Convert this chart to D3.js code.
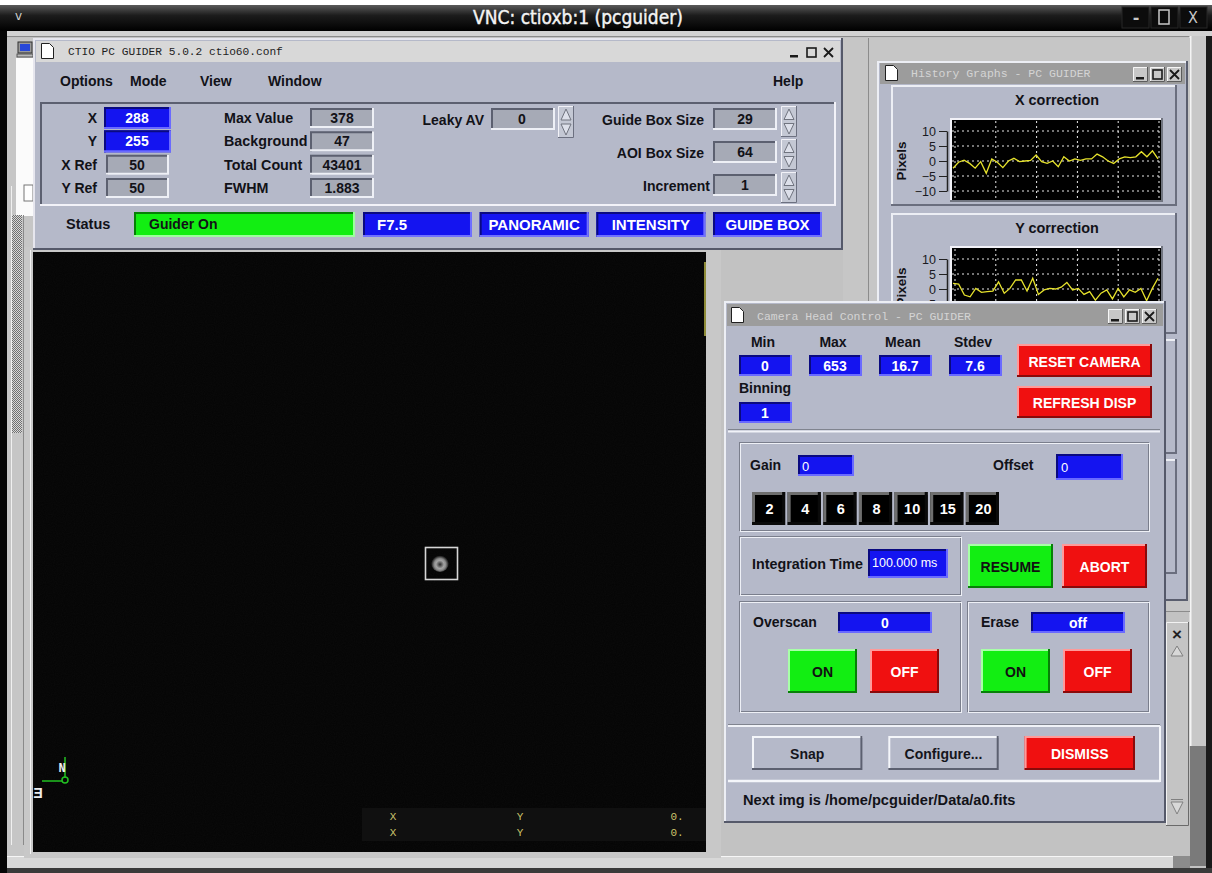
<!DOCTYPE html>
<html>
<head>
<meta charset="utf-8">
<script src="https://cdn.jsdelivr.net/npm/d3@7"></script>
<style>
body { margin:0; background:#fff; overflow:hidden; }
svg { display:block; }
</style>
</head>
<body>
<script>
// ---- values ----
var vncTitle = "VNC: ctioxb:1 (pcguider)";
var mainTitle = "CTIO PC GUIDER 5.0.2 ctio60.conf";
var menuItems = ["Options", "Mode", "View", "Window"];
var guideLabels = ["X", "Y", "X Ref", "Y Ref"];
var guideValues = ["288", "255", "50", "50"];
var statLabels = ["Max Value", "Background", "Total Count", "FWHM"];
var statValues = ["378", "47", "43401", "1.883"];
var leakyAv = "0";
var boxLabels = ["Guide Box Size", "AOI Box Size", "Increment"];
var boxValues = ["29", "64", "1"];
var statusText = "Guider On";
var modeButtons = ["F7.5", "PANORAMIC", "INTENSITY", "GUIDE BOX"];

var historyTitles = ["X correction", "Y correction"];
var historyTicks = [10, 5, 0, -5, -10];
var xCorrection = [-2.4, -0.4, 0.3, -0.8, -2.4, -0.2, -4.1, 0.7, -0.4, -2.2, 0, 0.9, -0.2, 0, 0.2, 2, -0.2, -0.8, 0,
                   -1.9, 1.4, 0, 0.7, 0.2, 0.7, 0.7, 2.3, 1.4, 0, -0.8, 0.7, 1.4, 1.1, 1.4, 3.1, 1.4, 3.4, 0.7];
var yCorrection = [1.9, 1.6, -2, -2.6, 0.2, -1.1, -0.9, -0.7, 2.4, -1.4, 0.2, 3, 3, -0.7, 3.6, -1.8, -0.3, 0.2, 0,
                   0.6, 2.2, -0.3, 0.2, -1.8, -0.9, -3.7, -1.4, -0.3, -3.3, 0.2, -2.6, -0.3, -1.1, 0.2, -3.9, 0.2, 3.6];

var camLabels = ["Min", "Max", "Mean", "Stdev"];
var camValues = ["0", "653", "16.7", "7.6"];
var binning = "1";
var gainSteps = ["2", "4", "6", "8", "10", "15", "20"];
var gainValue = "0", offsetValue = "0";
var integrationTime = "100.000 ms";
var overscanValue = "0", eraseValue = "off";
var bottomButtons = ["Snap", "Configure...", "DISMISS"];
var nextImage = "Next img is /home/pcguider/Data/a0.fits";
var readoutCols = ["X", "Y", "0."];
var readoutRows = [readoutCols, readoutCols];

// ---- look ----
var W = 1212, H = 873;
var BG = "#b5b9c9", DESK = "#c2c2c2";
var BLUE = "#1414f0", GREEN = "#12ee12", RED = "#f01010";
var SANS = "'Liberation Sans', Arial, Helvetica, sans-serif";
var MONO = "'Liberation Mono', 'DejaVu Sans Mono', monospace";
var CAM_TOP = 301;

var svg = d3.select("body").append("svg").attr("width", W).attr("height", H);
var defs = svg.append("defs");

var vg = defs.append("linearGradient").attr("id", "vncbar").attr("x1", 0).attr("y1", 0).attr("x2", 0).attr("y2", 1);
vg.append("stop").attr("offset", "0%").attr("stop-color", "#5a5a5a");
vg.append("stop").attr("offset", "40%").attr("stop-color", "#1c1c1c");
vg.append("stop").attr("offset", "100%").attr("stop-color", "#000");

var chk = defs.append("pattern").attr("id", "checker").attr("width", 2).attr("height", 2).attr("patternUnits", "userSpaceOnUse");
chk.append("rect").attr("width", 2).attr("height", 2).attr("fill", "#d8d8d8");
chk.append("rect").attr("width", 1).attr("height", 1).attr("fill", "#707070");
chk.append("rect").attr("x", 1).attr("y", 1).attr("width", 1).attr("height", 1).attr("fill", "#707070");

var noise = defs.append("filter").attr("id", "noise").attr("x", 0).attr("y", 0).attr("width", 1).attr("height", 1);
noise.append("feTurbulence").attr("type", "fractalNoise").attr("baseFrequency", 0.9).attr("numOctaves", 1).attr("seed", 4);
noise.append("feColorMatrix").attr("type", "saturate").attr("values", 0);

var star = defs.append("radialGradient").attr("id", "star").attr("cx", "50%").attr("cy", "58%").attr("r", "50%");
star.append("stop").attr("offset", "0%").attr("stop-color", "#2a2a2a");
star.append("stop").attr("offset", "45%").attr("stop-color", "#a4a4a4");
star.append("stop").attr("offset", "65%").attr("stop-color", "#8a8a8a");
star.append("stop").attr("offset", "100%").attr("stop-color", "#080808");

// the history window sits under the camera window
defs.append("clipPath").attr("id", "underCam").append("path")
	.attr("clip-rule", "evenodd")
	.attr("d", "M840,30H1195V620H840Z M724," + CAM_TOP + "H1166V823H724Z");

// ---- helpers ----
function rect(p, x, y, w, h, fill) {
	return p.append("rect").attr("x", x).attr("y", y).attr("width", w).attr("height", h).attr("fill", fill);
}

function bevel(p, x, y, w, h, fill, kind, lw, light, dark) {
	lw = lw || 2;
	light = light || "#eef0f8";
	dark = dark || "#656978";
	var tl = kind == "sunken" ? dark : light;
	var br = kind == "sunken" ? light : dark;
	var g = p.append("g");
	rect(g, x, y, w, h, fill);
	var o = lw / 2;
	g.append("path").attr("d", "M" + (x + o) + "," + (y + h) + "V" + (y + o) + "H" + (x + w))
		.attr("fill", "none").attr("stroke", tl).attr("stroke-width", lw);
	g.append("path").attr("d", "M" + (x + w - o) + "," + y + "V" + (y + h - o) + "H" + x)
		.attr("fill", "none").attr("stroke", br).attr("stroke-width", lw);
	return g;
}

function etched(p, x, y, w, h) {
	p.append("rect").attr("x", x + 0.5).attr("y", y + 0.5).attr("width", w).attr("height", h)
		.attr("fill", "none").attr("stroke", "#7a7e8c");
	p.append("rect").attr("x", x + 1.5).attr("y", y + 1.5).attr("width", w).attr("height", h)
		.attr("fill", "none").attr("stroke", "#eef0f6");
}

function text(p, x, y, t, o) {
	o = o || {};
	return p.append("text").attr("x", x).attr("y", y).text(t)
		.attr("font-family", o.font || SANS)
		.attr("font-size", o.size || 14)
		.attr("font-weight", o.weight || "bold")
		.attr("fill", o.fill || "#121218")
		.attr("text-anchor", o.anchor || "start")
		.attr("dominant-baseline", "central");
}

function docIcon(p, x, y) {
	p.append("path").attr("d", "M" + x + "," + y + "h8l4,4v11h-12z")
		.attr("fill", "#fff").attr("stroke", "#202020").attr("stroke-width", 1);
}

function winButtons(p, x, y, boxed) {
	[0, 1, 2].forEach(function(i) {
		var bx = x + i * 17;
		if (boxed) bevel(p, bx, y, 15, 15, "#c8c8c8", "raised", 1, "#f6f6f6", "#5c5c5c");
		if (i == 0) rect(p, bx + 3, y + 10, 8, 2.5, "#1a1a1a");
		if (i == 1) p.append("rect").attr("x", bx + 3).attr("y", y + 3).attr("width", 9).attr("height", 9)
			.attr("fill", "none").attr("stroke", "#1a1a1a").attr("stroke-width", 1.6);
		if (i == 2) p.append("path")
			.attr("d", "M" + (bx + 3) + "," + (y + 3) + "L" + (bx + 12) + "," + (y + 12) + "M" + (bx + 12) + "," + (y + 3) + "L" + (bx + 3) + "," + (y + 12))
			.attr("stroke", "#1a1a1a").attr("stroke-width", 1.8);
	});
}

function spinner(p, x, y, h) {
	bevel(p, x, y, 16, h, "#c4c8d4", "raised", 1, "#f2f2f8", "#6c7080");
	var m = y + h / 2;
	p.append("path").attr("d", "M" + (x + 3) + "," + (m - 2) + "L" + (x + 8) + "," + (y + 3) + "L" + (x + 13) + "," + (m - 2) + "Z")
		.attr("fill", "#dde0ea").attr("stroke", "#70747f");
	p.append("path").attr("d", "M" + (x + 3) + "," + (m + 2) + "L" + (x + 8) + "," + (y + h - 3) + "L" + (x + 13) + "," + (m + 2) + "Z")
		.attr("fill", "#dde0ea").attr("stroke", "#70747f");
}

function button(p, x, y, w, h, fill, label, color, light, dark) {
	bevel(p, x, y, w, h, fill, "raised", 2, light, dark);
	text(p, x + w / 2, y + h / 2 + 1, label, { anchor: "middle", fill: color, size: 14 });
}

// ---- screen background ----
rect(svg, 0, 0, W, H, "#fff");
rect(svg, 0, 5, W, 26, "url(#vncbar)");
text(svg, 15, 16, "v", { fill: "#d0d0d0", size: 12, weight: "normal", font: "'DejaVu Sans', sans-serif" });
text(svg, 578, 17, vncTitle, { anchor: "middle", fill: "#f4f4f4", size: 19, weight: "normal", font: "'DejaVu Sans Condensed', 'DejaVu Sans', sans-serif" })
	.attr("stroke", "#f4f4f4").attr("stroke-width", 0.4);
[0, 1, 2].forEach(function(i) {
	rect(svg, 1122 + i * 29, 7, 27, 21, "#0c0c0c").attr("stroke", "#262626");
});
text(svg, 1136, 17, "-", { anchor: "middle", fill: "#c8c8c8", size: 16, font: "'DejaVu Sans', sans-serif" });
svg.append("rect").attr("x", 1159).attr("y", 10).attr("width", 10).attr("height", 14).attr("fill", "none").attr("stroke", "#c8c8c8").attr("stroke-width", 1.5);
text(svg, 1193, 17, "X", { anchor: "middle", fill: "#c8c8c8", size: 16, weight: "normal", font: "'DejaVu Sans Condensed', sans-serif" });

rect(svg, 0, 31, W, H - 31, DESK);
rect(svg, 0, 31, 7, H - 31, "#050505");
rect(svg, 7, 31, W - 7, 5, "#d2d2d2");
svg.append("line").attr("x1", 7).attr("x2", W).attr("y1", 36.5).attr("y2", 36.5).attr("stroke", "#8a8a8a");
rect(svg, 1190, 36, 16, 710, "#c8c8c8");
svg.append("line").attr("x1", 1190.5).attr("x2", 1190.5).attr("y1", 36).attr("y2", 746).attr("stroke", "#f4f4f4").attr("stroke-width", 2);
rect(svg, 1190, 746, 17, 120, "#7a7a7a");
rect(svg, 1206, 36, 6, H - 36, "#1a1a1a");
rect(svg, 7, 856, 1166, 13, "#d8d8d8");
svg.append("line").attr("x1", 7).attr("x2", 1173).attr("y1", 856.5).attr("y2", 856.5).attr("stroke", "#f6f6f6");
rect(svg, 1173, 856, 17, 13, "#8c8c8c");
rect(svg, 7, 868, W - 7, 5, "#3a3a3a");

// window partly hidden at the left
rect(svg, 7, 38, 26, 818, "#c6c6c6");
rect(svg, 16, 58, 17, 158, "#fbfbfb");
rect(svg, 24, 185, 9, 16, "#ffffff").attr("stroke", "#777");
rect(svg, 12, 215, 10, 218, "url(#checker)");
svg.append("line").attr("x1", 23.5).attr("x2", 23.5).attr("y1", 215).attr("y2", 845).attr("stroke", "#8a8a8a");
svg.append("line").attr("x1", 11.5).attr("x2", 11.5).attr("y1", 186).attr("y2", 845).attr("stroke", "#f0f0f0");
// little computer icon
rect(svg, 18, 42, 14, 11, "#9a9a9a").attr("stroke", "#303030");
rect(svg, 20, 44, 10, 7, "#2848d8");
rect(svg, 17, 54, 16, 3, "#b8b8b8").attr("stroke", "#404040").attr("stroke-width", 0.8);

// ---- guider image window ----
var img = svg.append("g");
rect(img, 24, 247, 697, 611, "#c8c8c8");
img.append("line").attr("x1", 30.5).attr("x2", 30.5).attr("y1", 250).attr("y2", 854).attr("stroke", "#f2f2f2");
rect(img, 33, 252, 673, 600, "#040404");
rect(img, 33, 252, 673, 600, "#000").attr("filter", "url(#noise)").attr("opacity", 0.035);
img.append("line").attr("x1", 705).attr("x2", 705).attr("y1", 262).attr("y2", 336).attr("stroke", "#bcb84a").attr("stroke-width", 1.5);
// star in its guide box
img.append("circle").attr("cx", 440).attr("cy", 563).attr("r", 9).attr("fill", "url(#star)");
img.append("rect").attr("x", 425.5).attr("y", 547.5).attr("width", 32).attr("height", 32)
	.attr("fill", "none").attr("stroke", "#d6d6d6").attr("stroke-width", 1.6);
// compass
img.append("path").attr("d", "M65,757V778M42,781H62").attr("stroke", "#22c022").attr("stroke-width", 1.5).attr("fill", "none");
img.append("circle").attr("cx", 65).attr("cy", 780).attr("r", 3).attr("fill", "none").attr("stroke", "#22c022").attr("stroke-width", 1.5);
text(img, 62, 769, "N", { anchor: "middle", fill: "#ececec", size: 12, font: MONO });
text(img, 0, 793, "E", { anchor: "middle", fill: "#ececec", size: 14 }).attr("transform", "translate(38,0) scale(-1,1)");
// readout
rect(img, 362, 808, 344, 33, "#101010");
var readCol = d3.scaleOrdinal().domain(d3.range(3)).range([393, 520, 677]);
var readRow = d3.scalePoint().domain(d3.range(2)).range([817, 833]);
readoutRows.forEach(function(row, r) {
	row.forEach(function(v, c) {
		text(img, readCol(c), readRow(r), v, { fill: "#ccc46c", size: 11, weight: "normal", font: MONO, anchor: "middle" });
	});
});

// ---- main PC GUIDER window ----
var mw = svg.append("g");
bevel(mw, 33, 38, 810, 212, BG, "raised", 2, "#e6e6ee", "#55596a");
rect(mw, 36, 41, 804, 21, "#d8d8d8");
docIcon(mw, 41.5, 43.5);
text(mw, 68, 52, mainTitle, { font: MONO, size: 11.2, weight: "normal", fill: "#1e1e1e" });
winButtons(mw, 787, 45, false);

var menuX = d3.scaleOrdinal().domain(menuItems).range([60, 130, 200, 268]);
menuItems.forEach(function(m) {
	text(mw, menuX(m), 81, m);
});
text(mw, 773, 81, "Help");

bevel(mw, 40, 102, 796, 104, BG, "sunken", 2, "#f2f2f8", "#5c6070");

var guideRow = d3.scalePoint().domain(d3.range(4)).range([118, 188]);
guideLabels.forEach(function(l, i) {
	var y = guideRow(i);
	text(mw, 97, y, l, { anchor: "end" });
	if (i < 2) {
		bevel(mw, 104, y - 11, 67, 22, BLUE, "sunken", 2, "#6a6aff", "#0a0a80");
		text(mw, 137, y, guideValues[i], { anchor: "middle", fill: "#fff" });
	} else {
		bevel(mw, 106, y - 10, 63, 20, "#a6aab6", "sunken", 2, "#eef0f6", "#5c6070");
		text(mw, 137, y, guideValues[i], { anchor: "middle" });
	}
	text(mw, 224, y, statLabels[i], { size: 14.3 });
	bevel(mw, 310, y - 10, 64, 20, "#a6aab6", "sunken", 2, "#eef0f6", "#5c6070");
	text(mw, 342, y, statValues[i], { anchor: "middle" });
});

text(mw, 484, 120, "Leaky AV", { anchor: "end" });
bevel(mw, 491, 108, 64, 22, "#a6aab6", "sunken", 2, "#eef0f6", "#5c6070");
text(mw, 522, 119, leakyAv, { anchor: "middle" });
spinner(mw, 558, 106, 32);

var boxRow = d3.scalePoint().domain(d3.range(3)).range([119, 185]);
boxLabels.forEach(function(l, i) {
	var y = boxRow(i);
	text(mw, i == 2 ? 710 : 704, y + 1, l, { anchor: "end" });
	bevel(mw, 713, y - 11, 64, 22, "#a6aab6", "sunken", 2, "#eef0f6", "#5c6070");
	text(mw, 745, y, boxValues[i], { anchor: "middle" });
	spinner(mw, 781, y - 13, 31);
});

text(mw, 66, 224, "Status", { size: 14.5 });
bevel(mw, 134, 212, 221, 25, GREEN, "sunken", 2, "#9cff9c", "#068006");
text(mw, 149, 224, statusText);
var modeX = d3.scaleBand().domain(modeButtons).range([363, 822]).paddingInner(0.066);
modeButtons.forEach(function(m, i) {
	var x = modeX(m), w = modeX.bandwidth();
	bevel(mw, x, 212, w, 25, BLUE, "sunken", 2, "#7070ff", "#0a0a80");
	text(mw, i == 0 ? x + 14 : x + w / 2, 224, m, { anchor: i == 0 ? "start" : "middle", fill: "#fff", size: 15 });
});

// ---- history graphs window ----
var hw = svg.append("g").attr("clip-path", "url(#underCam)");
rect(hw, 843, 38, 347, 574, "#c6c6c6");
hw.append("line").attr("x1", 868.5).attr("x2", 868.5).attr("y1", 38).attr("y2", 612).attr("stroke", "#8c8c8c");
hw.append("line").attr("x1", 869.5).attr("x2", 1190).attr("y1", 611.5).attr("y2", 611.5).attr("stroke", "#8c8c8c");
bevel(hw, 877, 61, 311, 540, BG, "raised", 2, "#eceef4", "#5a5e6e");
rect(hw, 880, 63, 305, 21, "#9c9c9c");
docIcon(hw, 885.5, 65.5);
text(hw, 911, 73, "History Graphs - PC GUIDER", { font: MONO, size: 11.5, weight: "normal", fill: "#d4d4d4" });
winButtons(hw, 1133, 67, true);

function historyPanel(top, title, series) {
	bevel(hw, 891, top, 286, 121, BG, "raised", 2, "#eceef4", "#6a6e7e");
	text(hw, 1057, top + 15, title, { anchor: "middle", size: 14.4 });
	bevel(hw, 950, top + 33, 213, 84, "#000", "sunken", 2, "#70747f", "#f2f2f8");
	var y = d3.scaleLinear().domain([-10, 10]).range([top + 106, top + 46]);
	var x = d3.scaleLinear().domain([0, series.length - 1]).range([953, 1158]);
	var gridX = d3.scaleLinear().domain([0, 5]).range([955, 1159]);
	hw.append("g").selectAll("line").data(historyTicks).enter().append("line")
		.attr("x1", 952).attr("x2", 1161)
		.attr("y1", function(d) { return y(d); }).attr("y2", function(d) { return y(d); })
		.attr("stroke", "#e8e8e8").attr("stroke-dasharray", "2,3");
	hw.append("g").selectAll("line").data(d3.range(6)).enter().append("line")
		.attr("x1", function(d) { return gridX(d); }).attr("x2", function(d) { return gridX(d); })
		.attr("y1", top + 36).attr("y2", top + 115)
		.attr("stroke", "#e8e8e8").attr("stroke-dasharray", "2,3");
	hw.append("path").datum(series)
		.attr("d", d3.line().x(function(d, i) { return x(i); }).y(function(d) { return y(d); }))
		.attr("fill", "none").attr("stroke", "#e6e22c").attr("stroke-width", 1.3);
	var ax = hw.append("g").attr("transform", "translate(947,0)")
		.call(d3.axisLeft(y).tickValues(historyTicks).tickSize(8).tickSizeOuter(0).tickPadding(3));
	ax.select(".domain").attr("stroke", "#222").attr("stroke-width", 1.5);
	ax.selectAll(".tick line").attr("stroke", "#222").attr("stroke-width", 1.2);
	ax.selectAll("text").attr("font-family", SANS).attr("font-size", 12.5).attr("fill", "#1a1a22");
	// labels that fall completely under the camera window are not shown
	ax.selectAll(".tick").filter(function(d) { return y(d) - 5 > CAM_TOP; }).select("text").attr("display", "none");
	text(hw, 0, 0, "Pixels", { anchor: "middle", size: 13.5 })
		.attr("transform", "translate(901," + Math.min(top + 76, CAM_TOP - 14) + ") rotate(-90)");
}
historyPanel(85, historyTitles[0], xCorrection);
historyPanel(213, historyTitles[1], yCorrection);
bevel(hw, 891, 339, 286, 115, BG, "raised", 2, "#eceef4", "#6a6e7e");
bevel(hw, 891, 459, 286, 115, BG, "raised", 2, "#eceef4", "#6a6e7e");

// small window at the far right
var sw = svg.append("g");
bevel(sw, 1166, 622, 23, 204, "#c4c4c4", "raised", 1, "#f2f2f2", "#6a6a6a");
text(sw, 1177, 634, "\u00d7", { anchor: "middle", size: 17, fill: "#222" });
sw.append("path").attr("d", "M1171,656L1177,646L1183,656Z").attr("fill", "#d8d8d8").attr("stroke", "#808080");
sw.append("path").attr("d", "M1171,802L1177,814L1183,802Z").attr("fill", "#d8d8d8").attr("stroke", "#808080");
sw.append("line").attr("x1", 1171).attr("x2", 1183).attr("y1", 799.5).attr("y2", 799.5).attr("stroke", "#808080");

// ---- camera head control window ----
var cw = svg.append("g");
bevel(cw, 724, CAM_TOP, 442, 522, BG, "raised", 2, "#eceef4", "#55596a");
rect(cw, 727, 304, 436, 22, "#9c9c9c");
docIcon(cw, 731.5, 307.5);
text(cw, 757, 316, "Camera Head Control - PC GUIDER", { font: MONO, size: 11.5, weight: "normal", fill: "#d4d4d4" });
winButtons(cw, 1108, 309, true);

var camCol = d3.scalePoint().domain(camLabels).range([765, 975]);
camLabels.forEach(function(l, i) {
	var cx = camCol(l);
	text(cw, cx - 2, 342, l, { anchor: "middle" });
	bevel(cw, cx - 26, 355, 53, 21, BLUE, "sunken", 2, "#6a6aff", "#0a0a80");
	text(cw, cx, 366, camValues[i], { anchor: "middle", fill: "#fff" });
});
text(cw, 765, 388, "Binning", { anchor: "middle" });
bevel(cw, 739, 402, 53, 21, BLUE, "sunken", 2, "#6a6aff", "#0a0a80");
text(cw, 765, 413, binning, { anchor: "middle", fill: "#fff" });
button(cw, 1017, 344, 135, 33, RED, "RESET CAMERA", "#fff", "#ff9a9a", "#8a0a0a");
button(cw, 1017, 386, 135, 32, RED, "REFRESH DISP", "#fff", "#ff9a9a", "#8a0a0a");
cw.append("line").attr("x1", 728).attr("x2", 1160).attr("y1", 431.5).attr("y2", 431.5).attr("stroke", "#f0f2f8").attr("stroke-width", 2);
cw.append("line").attr("x1", 728).attr("x2", 1160).attr("y1", 429.5).attr("y2", 429.5).attr("stroke", "#80848f");

// gain group
etched(cw, 739, 442, 409, 88);
text(cw, 750, 465, "Gain");
bevel(cw, 798, 455, 56, 21, BLUE, "sunken", 2, "#6a6aff", "#0a0a80");
text(cw, 802, 466, gainValue, { fill: "#fff", weight: "normal", size: 13 });
text(cw, 993, 465, "Offset");
bevel(cw, 1056, 454, 67, 26, BLUE, "sunken", 2, "#6a6aff", "#0a0a80");
text(cw, 1061, 467, offsetValue, { fill: "#fff", weight: "normal", size: 13 });
var gainX = d3.scaleBand().domain(gainSteps).range([752, 999]).paddingInner(0.07);
gainSteps.forEach(function(s) {
	var x = gainX(s), w = gainX.bandwidth();
	bevel(cw, x, 492, w, 33, "#000", "raised", 3, "#6e6e6e", "#0a0a0a");
	text(cw, x + w / 2 + 1, 509, s, { anchor: "middle", fill: "#fff", size: 14.5 });
});

// integration time
etched(cw, 739, 536, 221, 58);
text(cw, 752, 564, "Integration Time", { size: 14.3 });
bevel(cw, 868, 549, 80, 29, BLUE, "sunken", 2, "#6a6aff", "#0a0a80");
text(cw, 872, 563, integrationTime, { fill: "#fff", weight: "normal", size: 12.5 });
button(cw, 968, 544, 85, 44, GREEN, "RESUME", "#111", "#a8ffa8", "#078007");
button(cw, 1062, 544, 85, 44, RED, "ABORT", "#fff", "#ff9a9a", "#8a0a0a");

// overscan / erase
function onOff(x0, w0, label, value, fx, fw, onX, offX) {
	etched(cw, x0, 601, w0, 110);
	text(cw, x0 + 14, 622, label);
	bevel(cw, fx, 612, fw, 21, BLUE, "sunken", 2, "#6a6aff", "#0a0a80");
	text(cw, fx + fw / 2, 623, value, { anchor: "middle", fill: "#fff" });
	button(cw, onX, 649, 69, 44, GREEN, "ON", "#111", "#a8ffa8", "#078007");
	button(cw, offX, 649, 69, 44, RED, "OFF", "#fff", "#ff9a9a", "#8a0a0a");
}
onOff(739, 221, "Overscan", overscanValue, 838, 94, 788, 870);
onOff(967, 181, "Erase", eraseValue, 1031, 94, 981, 1063);

// bottom buttons and message line
cw.append("line").attr("x1", 728).attr("x2", 1160).attr("y1", 724.5).attr("y2", 724.5).attr("stroke", "#80848f");
cw.append("line").attr("x1", 728).attr("x2", 1160).attr("y1", 726).attr("y2", 726).attr("stroke", "#f0f2f8").attr("stroke-width", 2);
var btnX = d3.scaleBand().domain(bottomButtons).range([752, 1135]).paddingInner(0.19);
bottomButtons.forEach(function(b, i) {
	var x = btnX(b), w = btnX.bandwidth();
	if (i < 2) button(cw, x, 736, w, 34, BG, b, "#15151c", "#f4f6fa", "#5c6070");
	else button(cw, x, 736, w, 34, RED, b, "#fff", "#ff9a9a", "#8a0a0a");
});
cw.append("line").attr("x1", 728).attr("x2", 1160).attr("y1", 781).attr("y2", 781).attr("stroke", "#f4f6fa").attr("stroke-width", 2.5);
cw.append("line").attr("x1", 1160).attr("x2", 1160).attr("y1", 726).attr("y2", 782).attr("stroke", "#f4f6fa").attr("stroke-width", 2);
text(cw, 743, 800, nextImage, { size: 14.6 });
</script>
</body>
</html>
